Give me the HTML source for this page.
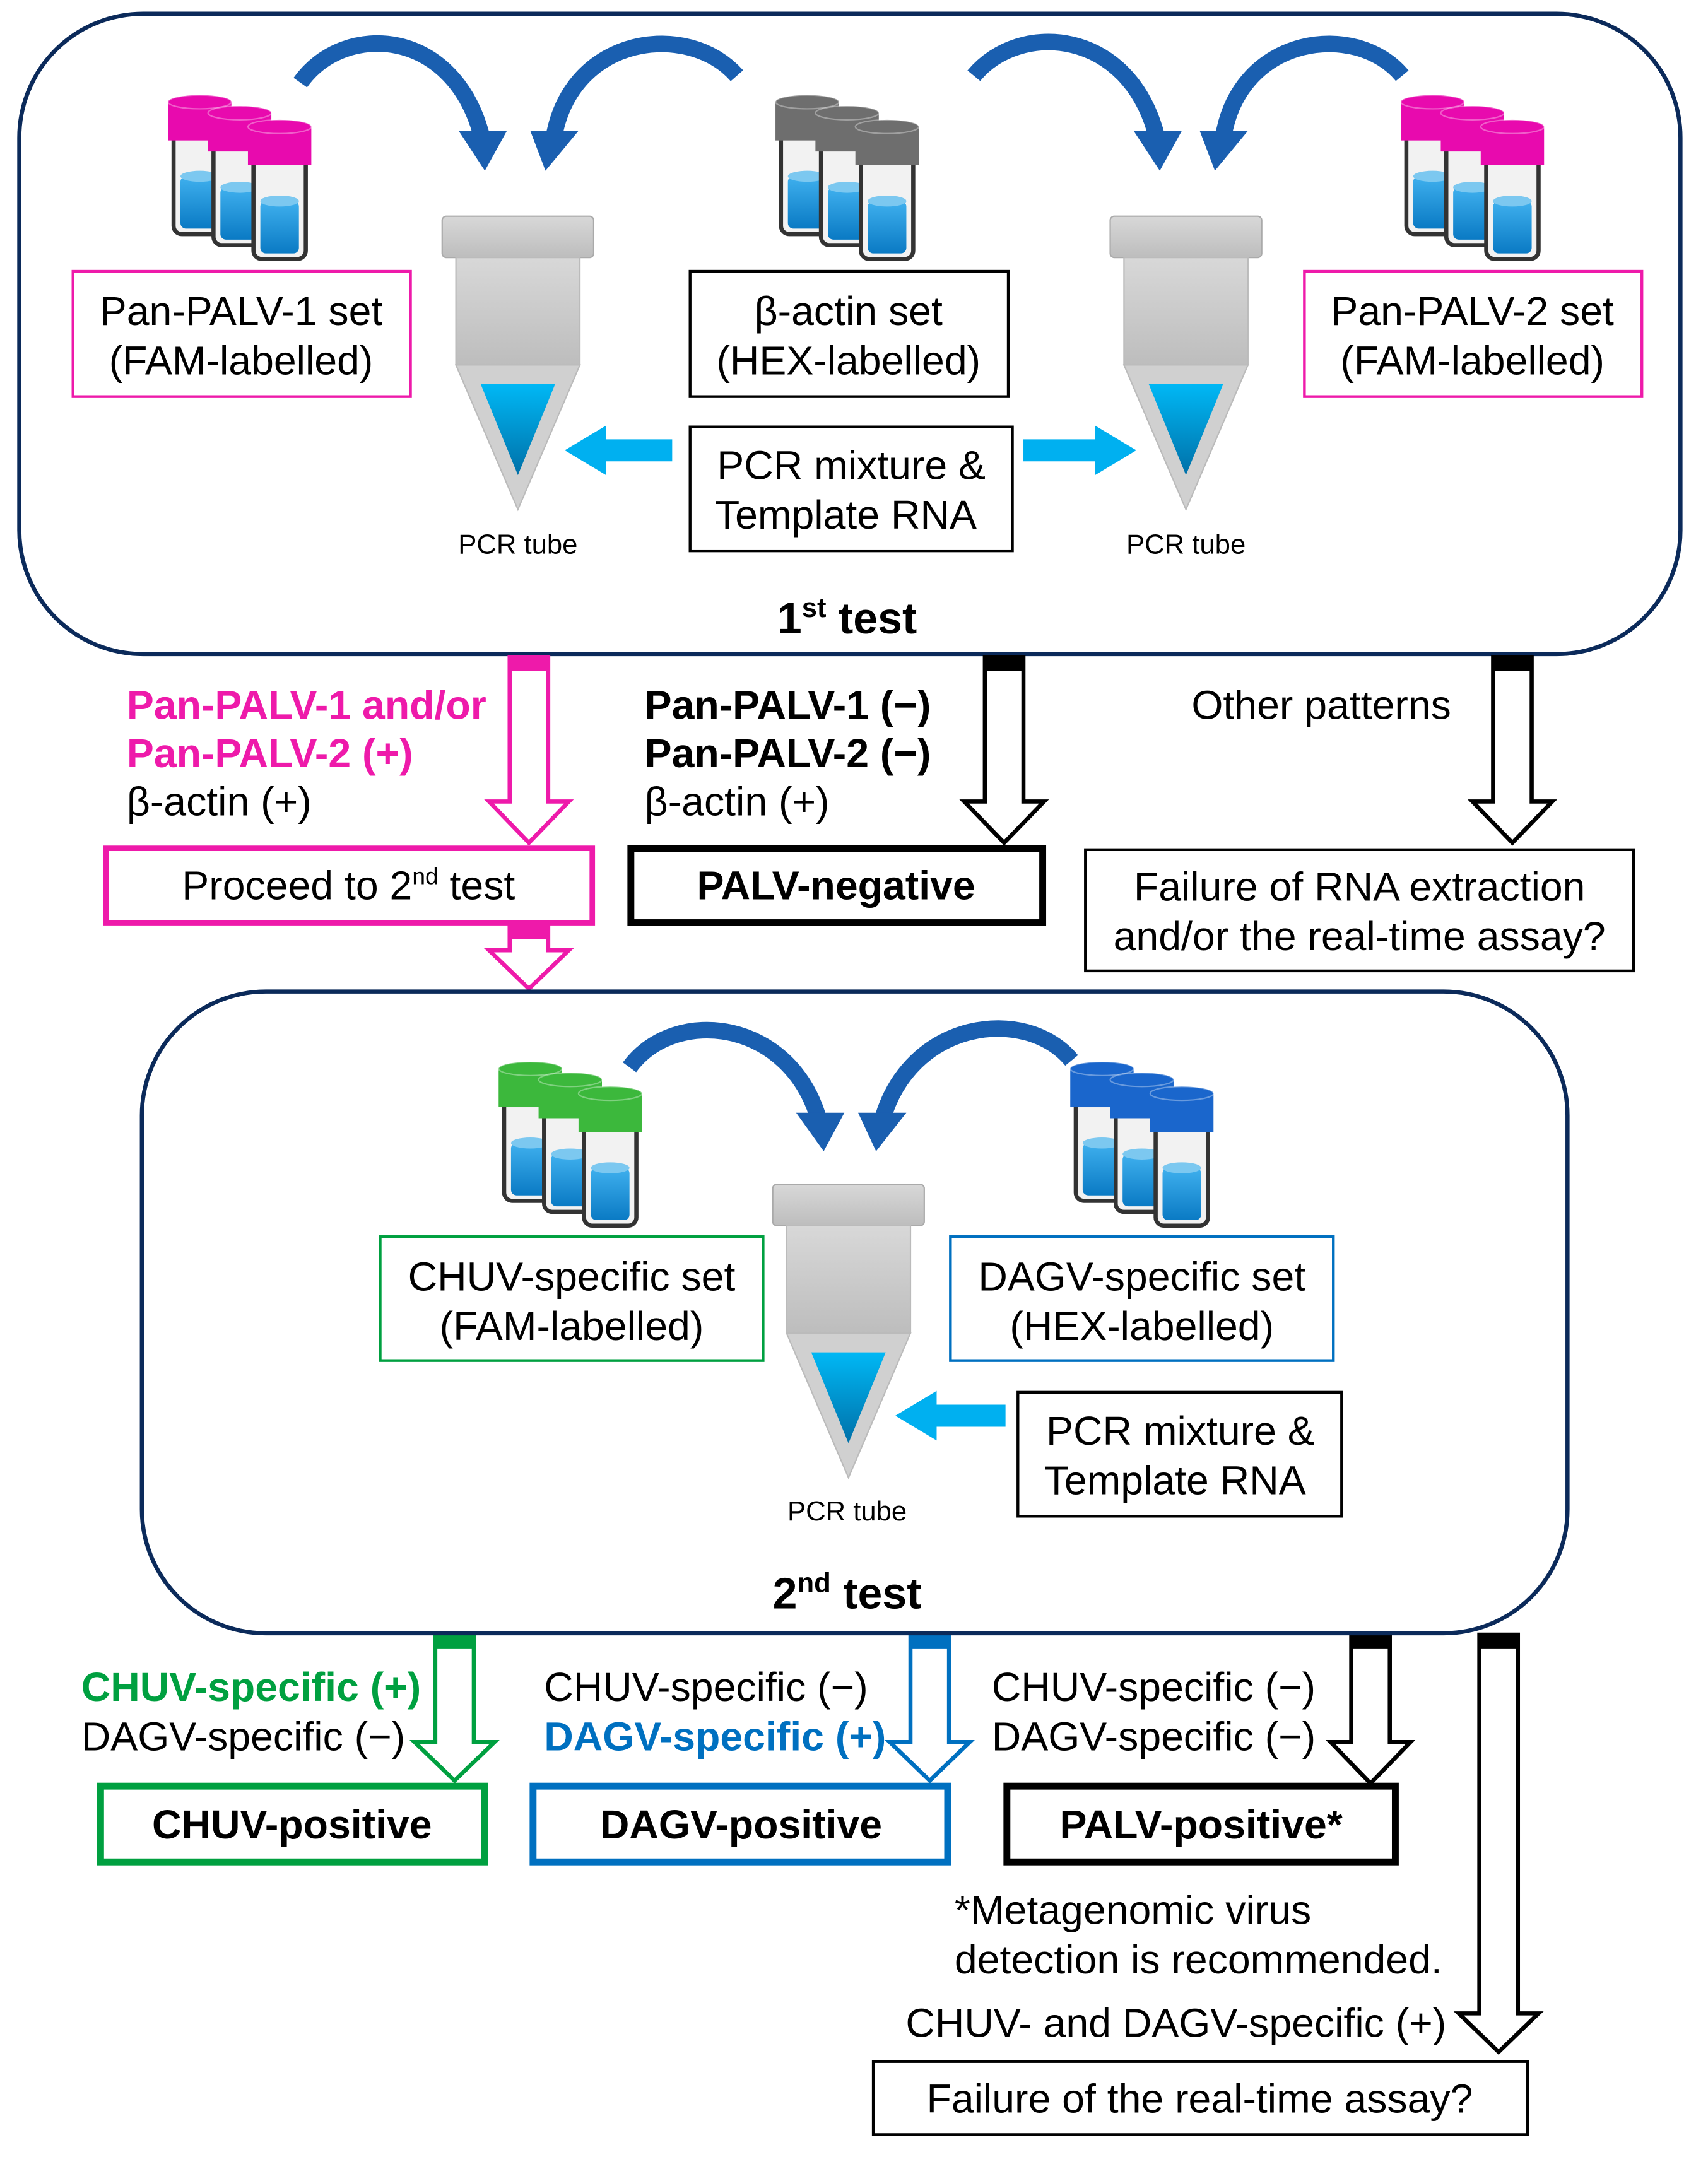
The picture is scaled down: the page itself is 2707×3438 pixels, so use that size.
<!DOCTYPE html>
<html><head><meta charset="utf-8"><style>
html,body{margin:0;padding:0;background:#fff}
svg{display:block}
text{font-family:"Liberation Sans",sans-serif}
</style></head><body>
<svg width="2707" height="3438" viewBox="0 0 1240 1575" preserveAspectRatio="none" xmlns="http://www.w3.org/2000/svg">
<defs>
<linearGradient id="liq" x1="0" y1="0" x2="0" y2="1"><stop offset="0" stop-color="#3fb0ee"/><stop offset="1" stop-color="#0a7ac4"/></linearGradient>
<linearGradient id="tip" x1="0" y1="0" x2="0" y2="1"><stop offset="0" stop-color="#00b8f5"/><stop offset="1" stop-color="#0070a8"/></linearGradient>
<linearGradient id="tb" x1="0" y1="0" x2="0" y2="1"><stop offset="0" stop-color="#d8d8d8"/><stop offset="1" stop-color="#bdbdbd"/></linearGradient>
<g id="vial">
<rect x="4" y="24" width="38" height="76" rx="6" fill="#f2f2f2" stroke="#333" stroke-width="3"/>
<rect x="9" y="58" width="28" height="38" rx="4" fill="url(#liq)"/>
<ellipse cx="23" cy="58" rx="14" ry="4" fill="#7cc8f0"/>
<rect x="0" y="4" width="46" height="28" fill="currentColor"/>
<ellipse cx="23" cy="4" rx="23" ry="5" fill="currentColor" stroke="#fff" stroke-opacity="0.35"/>
</g>
<g id="vials">
<use href="#vial" x="0" y="0"/><use href="#vial" x="29" y="8"/><use href="#vial" x="58" y="18"/>
</g>
<g id="tube">
<rect x="-55" y="0" width="110" height="30" rx="3" fill="url(#tb)" stroke="#aaa"/>
<rect x="-45" y="30" width="90" height="78" fill="url(#tb)" stroke="#bbb"/>
<polygon points="-45,108 45,108 0,213" fill="#d0d0d0" stroke="#bbb"/>
<polygon points="-27,122 27,122 0,188" fill="url(#tip)"/>
</g>
</defs>
<g font-size="29.5">
<rect x="14" y="10" width="1206" height="465" rx="90" fill="none" stroke="#0b2a5a" stroke-width="3"/>
<use href="#vials" x="122" y="70" color="#e80aae"/>
<use href="#vials" x="563" y="70" color="#6e6e6e"/>
<use href="#vials" x="1017" y="70" color="#e80aae"/>
<use href="#tube" x="376" y="157"/>
<use href="#tube" x="861" y="157"/>
<text x="376" y="402" font-size="20" text-anchor="middle">PCR tube</text>
<text x="861" y="402" font-size="20" text-anchor="middle">PCR tube</text>

<g fill="none" stroke="#1a5fb0" stroke-width="12">
<path d="M218,60 C250,15 330,20 350,100"/>
<path d="M535,55 C500,15 415,25 402,100"/>
<path d="M707,55 C740,15 820,20 840,100"/>
<path d="M1018,55 C985,15 900,25 888,100"/>
<path d="M457,775 C490,730 575,740 595,815"/>
<path d="M778,770 C745,730 660,740 640,815"/>
</g>
<g fill="#1a5fb0">
<polygon points="333,95 368,95 352,124"/>
<polygon points="385,95 420,95 396,124"/>
<polygon points="823,95 858,95 842,124"/>
<polygon points="871,95 906,95 882,124"/>
<polygon points="578,808 613,808 598,836"/>
<polygon points="623,808 658,808 636,836"/>
</g>

<rect x="53" y="197" width="245" height="91" fill="#fff" stroke="#ee1aaa" stroke-width="2"/>
<text x="175" y="236" text-anchor="middle">Pan-PALV-1 set</text>
<text x="175" y="272" text-anchor="middle">(FAM-labelled)</text>
<rect x="501" y="197" width="231" height="91" fill="#fff" stroke="#000" stroke-width="2"/>
<text x="616" y="236" text-anchor="middle">β-actin set</text>
<text x="616" y="272" text-anchor="middle">(HEX-labelled)</text>
<rect x="947" y="197" width="245" height="91" fill="#fff" stroke="#ee1aaa" stroke-width="2"/>
<text x="1069" y="236" text-anchor="middle">Pan-PALV-2 set</text>
<text x="1069" y="272" text-anchor="middle">(FAM-labelled)</text>
<rect x="501" y="310" width="234" height="90" fill="#fff" stroke="#000" stroke-width="2"/>
<text x="618" y="348" text-anchor="middle">PCR mixture &amp;</text>
<text x="614" y="384" text-anchor="middle">Template RNA</text>
<polygon points="488,319 440,319 440,309 410,327 440,345 440,335 488,335" fill="#00b0f0"/>
<polygon points="743,319 795,319 795,309 825,327 795,345 795,335 743,335" fill="#00b0f0"/>
<text x="615" y="460" font-size="32" font-weight="bold" text-anchor="middle">1<tspan font-size="20" dy="-12">st</tspan><tspan dy="12"> test</tspan></text>

<g fill="#fff" stroke-width="3">
<polygon stroke="#ee1aaa" points="370,477 398,477 398,582 413,582 384,612 355,582 370,582"/>
<polygon stroke="#ee1aaa" points="370,672 398,672 398,690 413,690 384,718 355,690 370,690"/>
<polygon stroke="#000" points="715,477 743,477 743,582 758,582 729,612 700,582 715,582"/>
<polygon stroke="#000" points="1084,477 1112,477 1112,582 1127,582 1098,612 1069,582 1084,582"/>
<polygon stroke="#00a040" points="316,1187 344,1187 344,1265 359,1265 330,1293 301,1265 316,1265"/>
<polygon stroke="#0070c0" points="661,1187 689,1187 689,1265 704,1265 675,1293 646,1265 661,1265"/>
<polygon stroke="#000" points="981,1187 1009,1187 1009,1265 1024,1265 995,1295 966,1265 981,1265"/>
<polygon stroke="#000" points="1074,1187 1102,1187 1102,1462 1117,1462 1088,1490 1059,1462 1074,1462"/>
</g>
<rect x="370" y="477" width="28" height="10" fill="#ee1aaa"/>
<rect x="370" y="672" width="28" height="10" fill="#ee1aaa"/>
<rect x="715" y="477" width="28" height="10" fill="#000"/>
<rect x="1084" y="477" width="28" height="10" fill="#000"/>
<rect x="316" y="1187" width="28" height="10" fill="#00a040"/>
<rect x="661" y="1187" width="28" height="10" fill="#0070c0"/>
<rect x="981" y="1187" width="28" height="10" fill="#000"/>
<rect x="1074" y="1187" width="28" height="10" fill="#000"/>

<text x="92" y="522" font-weight="bold" fill="#ee1aaa">Pan-PALV-1 and/or</text>
<text x="92" y="557" font-weight="bold" fill="#ee1aaa">Pan-PALV-2 (+)</text>
<text x="92" y="592">β-actin (+)</text>
<text x="468" y="522" font-weight="bold">Pan-PALV-1 (−)</text>
<text x="468" y="557" font-weight="bold">Pan-PALV-2 (−)</text>
<text x="468" y="592">β-actin (+)</text>
<text x="865" y="522">Other patterns</text>

<rect x="77" y="616" width="353" height="54" fill="#fff" stroke="#ee1aaa" stroke-width="4"/>
<text x="253" y="653" text-anchor="middle">Proceed to 2<tspan font-size="17" dy="-11">nd</tspan><tspan dy="11"> test</tspan></text>
<rect x="458" y="616" width="299" height="54" fill="#fff" stroke="#000" stroke-width="5"/>
<text x="607" y="653" font-weight="bold" text-anchor="middle">PALV-negative</text>
<rect x="788" y="617" width="398" height="88" fill="#fff" stroke="#000" stroke-width="2"/>
<text x="987" y="654" text-anchor="middle">Failure of RNA extraction</text>
<text x="987" y="690" text-anchor="middle">and/or the real-time assay?</text>

<rect x="103" y="720" width="1035" height="466" rx="90" fill="none" stroke="#0b2a5a" stroke-width="3"/>
<use href="#vials" x="362" y="772" color="#3cb83c"/>
<use href="#vials" x="777" y="772" color="#1a66cc"/>
<use href="#tube" x="616" y="860"/>
<text x="615" y="1104" font-size="20" text-anchor="middle">PCR tube</text>
<rect x="276" y="898" width="278" height="90" fill="#fff" stroke="#00a040" stroke-width="2"/>
<text x="415" y="937" text-anchor="middle">CHUV-specific set</text>
<text x="415" y="973" text-anchor="middle">(FAM-labelled)</text>
<rect x="690" y="898" width="278" height="90" fill="#fff" stroke="#0070c0" stroke-width="2"/>
<text x="829" y="937" text-anchor="middle">DAGV-specific set</text>
<text x="829" y="973" text-anchor="middle">(HEX-labelled)</text>
<rect x="739" y="1011" width="235" height="90" fill="#fff" stroke="#000" stroke-width="2"/>
<text x="857" y="1049" text-anchor="middle">PCR mixture &amp;</text>
<text x="853" y="1085" text-anchor="middle">Template RNA</text>
<polygon points="730,1020 680,1020 680,1010 650,1028 680,1046 680,1036 730,1036" fill="#00b0f0"/>
<text x="615" y="1168" font-size="32" font-weight="bold" text-anchor="middle">2<tspan font-size="20" dy="-12">nd</tspan><tspan dy="12"> test</tspan></text>

<text x="59" y="1235" font-weight="bold" fill="#00a040">CHUV-specific (+)</text>
<text x="59" y="1271">DAGV-specific (−)</text>
<text x="395" y="1235">CHUV-specific (−)</text>
<text x="395" y="1271" font-weight="bold" fill="#0070c0">DAGV-specific (+)</text>
<text x="720" y="1235">CHUV-specific (−)</text>
<text x="720" y="1271">DAGV-specific (−)</text>
<rect x="73" y="1297" width="279" height="55" fill="#fff" stroke="#00a040" stroke-width="5"/>
<text x="212" y="1335" font-weight="bold" text-anchor="middle">CHUV-positive</text>
<rect x="387" y="1297" width="301" height="55" fill="#fff" stroke="#0070c0" stroke-width="5"/>
<text x="538" y="1335" font-weight="bold" text-anchor="middle">DAGV-positive</text>
<rect x="731" y="1297" width="282" height="55" fill="#fff" stroke="#000" stroke-width="5"/>
<text x="872" y="1335" font-weight="bold" text-anchor="middle">PALV-positive*</text>
<text x="693" y="1397">*Metagenomic virus</text>
<text x="693" y="1433">detection is recommended.</text>
<text x="1050" y="1479" text-anchor="end">CHUV- and DAGV-specific (+)</text>
<rect x="634" y="1497" width="475" height="53" fill="#fff" stroke="#000" stroke-width="2"/>
<text x="871" y="1534" text-anchor="middle">Failure of the real-time assay?</text>
</g>
</svg>
</body></html>
